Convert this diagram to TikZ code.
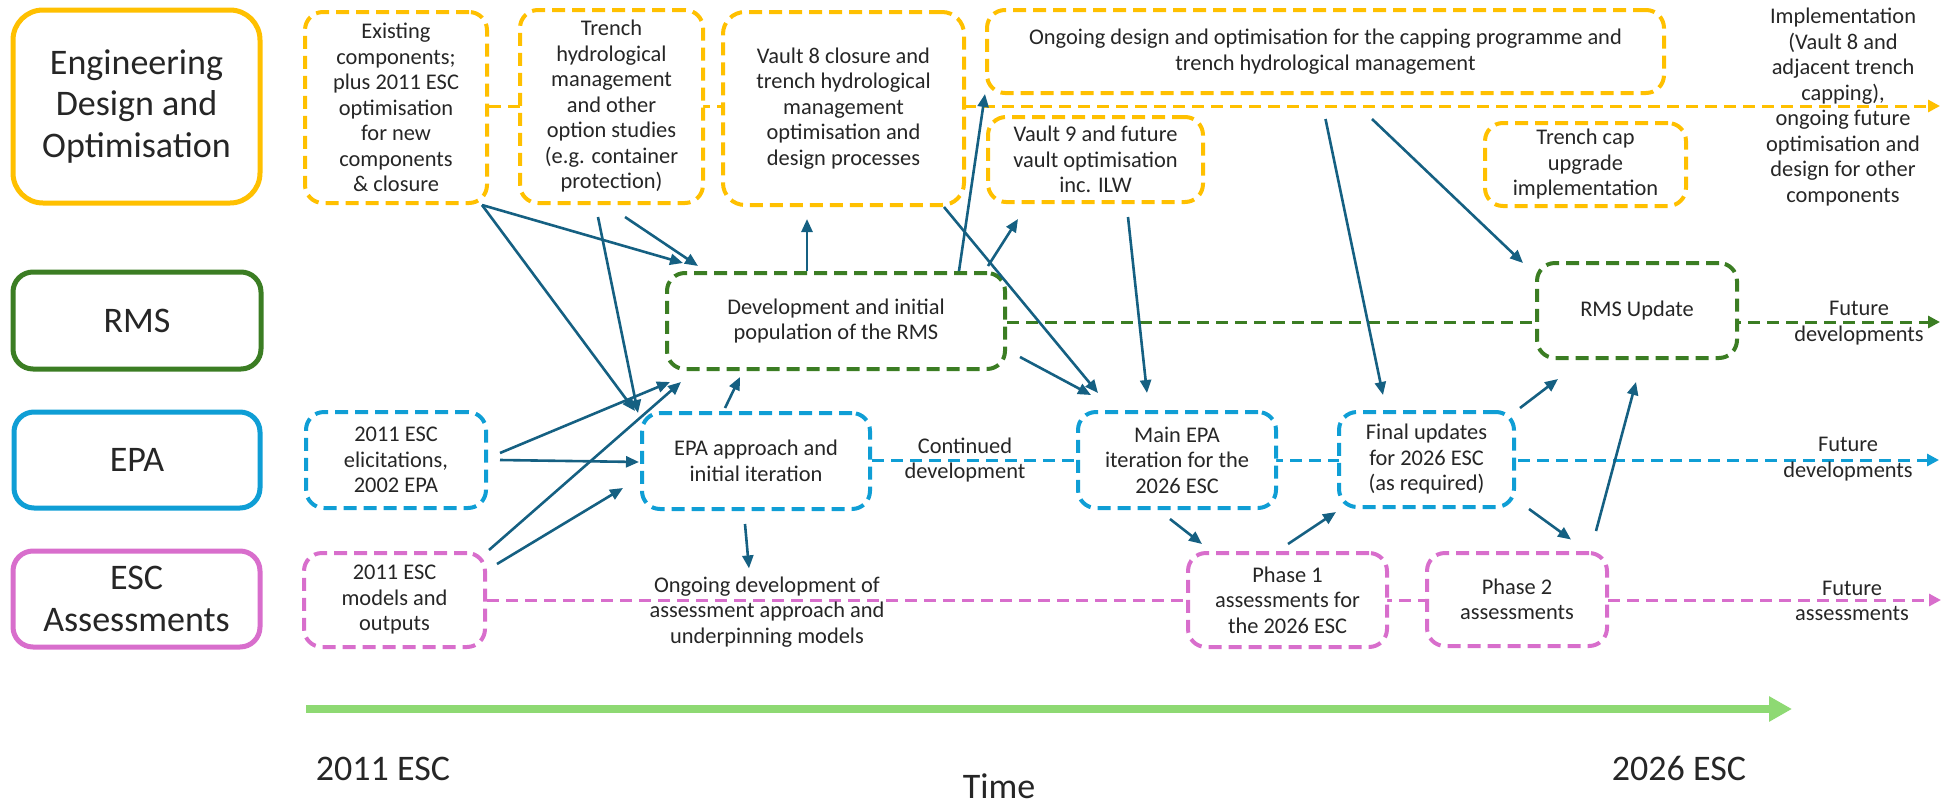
\documentclass[tikz,border=0pt]{standalone}
\usepackage{fontspec}
\setmainfont{Carlito}
\usetikzlibrary{arrows.meta}
\pgfdeclarelayer{bg}
\pgfsetlayers{bg,main}

\definecolor{cYel}{HTML}{FFC000}
\definecolor{cGrn}{HTML}{3B7D23}
\definecolor{cBlu}{HTML}{0F9ED5}
\definecolor{cPnk}{HTML}{D86ECC}
\definecolor{cArr}{HTML}{156082}
\definecolor{cTime}{HTML}{8ED973}
\definecolor{cTxt}{HTML}{262626}

\begin{document}
\begin{tikzpicture}[x=0.5pt,y=-0.5pt,
  every node/.style={text=cTxt, font=\fontsize{11.2pt}{12.75pt}\selectfont, align=center, inner sep=0pt},
  lanebox/.style={draw, line width=2.5pt, rounded corners=10pt, fill=white,
    font=\fontsize{18pt}{20.8pt}\selectfont},
  dbox/.style={draw, line width=2pt, dash pattern=on 6.5pt off 3.5pt, rounded corners=9pt, fill=white},
  flowline/.style={line width=1.5pt, dash pattern=on 6pt off 3.5pt, -{Triangle[length=6pt,width=6pt]}},
  linkarrow/.style={cArr, line width=1.3pt, -{Triangle[length=6.5pt,width=5.5pt]}},
  bigtext/.style={font=\fontsize{18pt}{20.8pt}\selectfont}
]
\useasboundingbox (0,0) rectangle (1950,804);

% ---- swim-lane labels
\node[lanebox, draw=cYel, rounded corners=15pt, minimum width=123.5pt, minimum height=96.5pt] (labEng) at (136.5,106.5) {Engineering\\Design and\\Optimisation};
\node[lanebox, draw=cGrn, minimum width=124pt, minimum height=48.5pt] (labRMS) at (137,320.5) {RMS};
\node[lanebox, draw=cBlu, minimum width=123pt, minimum height=48pt] (labEPA) at (137,460) {EPA};
\node[lanebox, draw=cPnk, minimum width=123.5pt, minimum height=48pt] (labESC) at (136.5,599) {ESC\\Assessments};

% ---- engineering design lane
\node[dbox, draw=cYel, minimum width=91pt, minimum height=95.5pt] (existing) at (396,107.5)
  {Existing\\components;\\plus 2011 ESC\\optimisation\\for new\\components\\\& closure};
\node[dbox, draw=cYel, minimum width=91.5pt, minimum height=96.5pt] (trench) at (611.5,106.5)
  {Trench\\hydrological\\management\\and other\\option studies\\(e.g. container\\protection)};
\node[dbox, draw=cYel, rounded corners=11pt, minimum width=120.5pt, minimum height=96.5pt] (vault8) at (843.5,108.5)
  {Vault 8 closure and\\trench hydrological\\management\\optimisation and\\design processes};
\node[dbox, draw=cYel, minimum width=338.5pt, minimum height=41.5pt] (ongoing) at (1325.5,51.5)
  {Ongoing design and optimisation for the capping programme and\\trench hydrological management};
\node[dbox, draw=cYel, minimum width=107.5pt, minimum height=42.5pt] (vault9) at (1095.5,159.5)
  {Vault 9 and future\\vault optimisation\\inc. ILW};
\node[dbox, draw=cYel, minimum width=100.5pt, minimum height=41.5pt] (trenchcap) at (1585.5,164.5)
  {Trench cap\\upgrade\\implementation};
\node (impl) at (1843,107)
  {Implementation\\(Vault 8 and\\adjacent trench\\capping),\\ongoing future\\optimisation and\\design for other\\components};

% ---- RMS lane
\node[dbox, draw=cGrn, minimum width=169pt, minimum height=48pt] (rmsdev) at (836,321)
  {Development and initial\\population of the RMS};
\node[dbox, draw=cGrn, minimum width=100pt, minimum height=47.5pt] (rmsupd) at (1637,310.5) {RMS Update};
\node (futRMS) at (1859,323) {Future\\developments};

% ---- EPA lane
\node[dbox, draw=cBlu, minimum width=90pt, minimum height=48pt] (elic) at (396,460)
  {2011 ESC\\elicitations,\\2002 EPA};
\node[dbox, draw=cBlu, minimum width=114pt, minimum height=48pt] (epaapp) at (756,461)
  {EPA approach and\\initial iteration};
\node (contdev) at (965,460) {Continued\\development};
\node[dbox, draw=cBlu, minimum width=99pt, minimum height=48pt] (mainepa) at (1177,460)
  {Main EPA\\iteration for the\\2026 ESC};
\node[dbox, draw=cBlu, minimum width=87.5pt, minimum height=47.5pt] (final) at (1426.5,459.5)
  {Final updates\\for 2026 ESC\\(as required)};
\node (futEPA) at (1848,459) {Future\\developments};

% ---- assessments lane
\node[dbox, draw=cPnk, minimum width=90.5pt, minimum height=47pt] (models) at (394.5,600)
  {2011 ESC\\models and\\outputs};
\node (ongoingdev) at (767,612)
  {Ongoing development of\\assessment approach and\\underpinning models};
\node[dbox, draw=cPnk, minimum width=99.5pt, minimum height=47pt] (phase1) at (1287.5,600)
  {Phase 1\\assessments for\\the 2026 ESC};
\node[dbox, draw=cPnk, minimum width=90pt, minimum height=46.5pt] (phase2) at (1517,599.5)
  {Phase 2\\assessments};
\node (futESC) at (1852,601) {Future\\assessments};

% ---- lane timelines, behind the boxes
\coordinate (yEnd) at (1940,106);
\coordinate (gEnd) at (1940,322);
\coordinate (bEnd) at (1939,460);
\coordinate (pEnd) at (1941,600);
\begin{pgfonlayer}{bg}
  \draw[flowline, cYel] (existing.east |- yEnd) -- (yEnd);
  \draw[flowline, cGrn] (rmsdev.east |- gEnd) -- (gEnd);
  \draw[flowline, cBlu] (epaapp.east |- bEnd) -- (bEnd);
  \draw[flowline, cPnk] (models.east |- pEnd) -- (pEnd);
\end{pgfonlayer}

% ---- dependencies
\draw[linkarrow] ([shift={(-7,0)}]existing.south east) -- ([shift={(18,-8)}]rmsdev.north west);
\draw[linkarrow] ([shift={(-7,0)}]existing.south east) -- ([shift={(-5,0)}]epaapp.north west);
\draw[linkarrow] ([shift={(-13.5,12)}]trench.south) -- ([shift={(-2,2)}]epaapp.north west);
\draw[linkarrow] ([shift={(13.5,12)}]trench.south) -- ([shift={(33,-5)}]rmsdev.north west);
\draw[linkarrow] ([shift={(-29,0)}]rmsdev.north) -- ([shift={(-36.5,12)}]vault8.south);
\draw[linkarrow] ([shift={(-48,0)}]rmsdev.north east) -- ([shift={(0,-1)}]ongoing.south west);
\draw[linkarrow] ([shift={(-19,-5)}]rmsdev.north east) -- ([shift={(32,15)}]vault9.south west);
\draw[linkarrow] ([shift={(-22,0)}]vault8.south east) -- ([shift={(22,-17)}]mainepa.north west);
\draw[linkarrow] ([shift={(13,-14)}]rmsdev.south east) -- ([shift={(15,-15)}]mainepa.north west);
\draw[linkarrow] ([shift={(32.5,13)}]vault9.south) -- ([shift={(-30,-17)}]mainepa.north);
\draw[linkarrow] ([shift={(0,24)}]ongoing.south) -- ([shift={(-43.5,-15)}]final.north);
\draw[linkarrow] ([shift={(46.5,24)}]ongoing.south) -- ([shift={(-12,2)}]rmsupd.north west);
\draw[linkarrow] ([shift={(12,-7)}]elic.east) -- ([shift={(5,11)}]rmsdev.south west);
\draw[linkarrow] ([shift={(12,0)}]elic.east) -- ([shift={(-1,1)}]epaapp.west);
\draw[linkarrow] ([shift={(2,-1)}]models.north east) -- ([shift={(16,11)}]rmsdev.south west);
\draw[linkarrow] ([shift={(10,13)}]models.north east) -- ([shift={(-17,27)}]epaapp.west);
\draw[linkarrow] ([shift={(-31,-3)}]epaapp.north) -- ([shift={(75,6)}]rmsdev.south west);
\draw[linkarrow] ([shift={(-11,13)}]epaapp.south) -- ([shift={(-18,-8)}]ongoingdev.north);
\draw[linkarrow] ([shift={(-7,9)}]mainepa.south) -- ([shift={(-85.5,-7)}]phase1.north);
\draw[linkarrow] ([shift={(0.5,-7)}]phase1.north) -- ([shift={(-1,3)}]final.south west);
\draw[linkarrow] ([shift={(4,-2)}]final.north east) -- ([shift={(23,19)}]rmsupd.south west);
\draw[linkarrow] ([shift={(13,0)}]final.south east) -- ([shift={(54,-11.5)}]phase2.north);
\draw[linkarrow] ([shift={(-13,-20)}]phase2.north east) -- ([shift={(-1,22)}]rmsupd.south);

% ---- time axis
\coordinate (tStart) at (306,709);
\coordinate (tEnd) at (1792,709);
\draw[cTime, line width=4pt, -{Triangle[length=11.5pt,width=12pt]}] (tStart) -- (tEnd);
\node[bigtext] (t2011) at (383,768.5) {2011 ESC};
\node[bigtext] (t2026) at (1679,768.5) {2026 ESC};
\node[bigtext] (time) at (999,786) {Time};
\end{tikzpicture}
\end{document}
